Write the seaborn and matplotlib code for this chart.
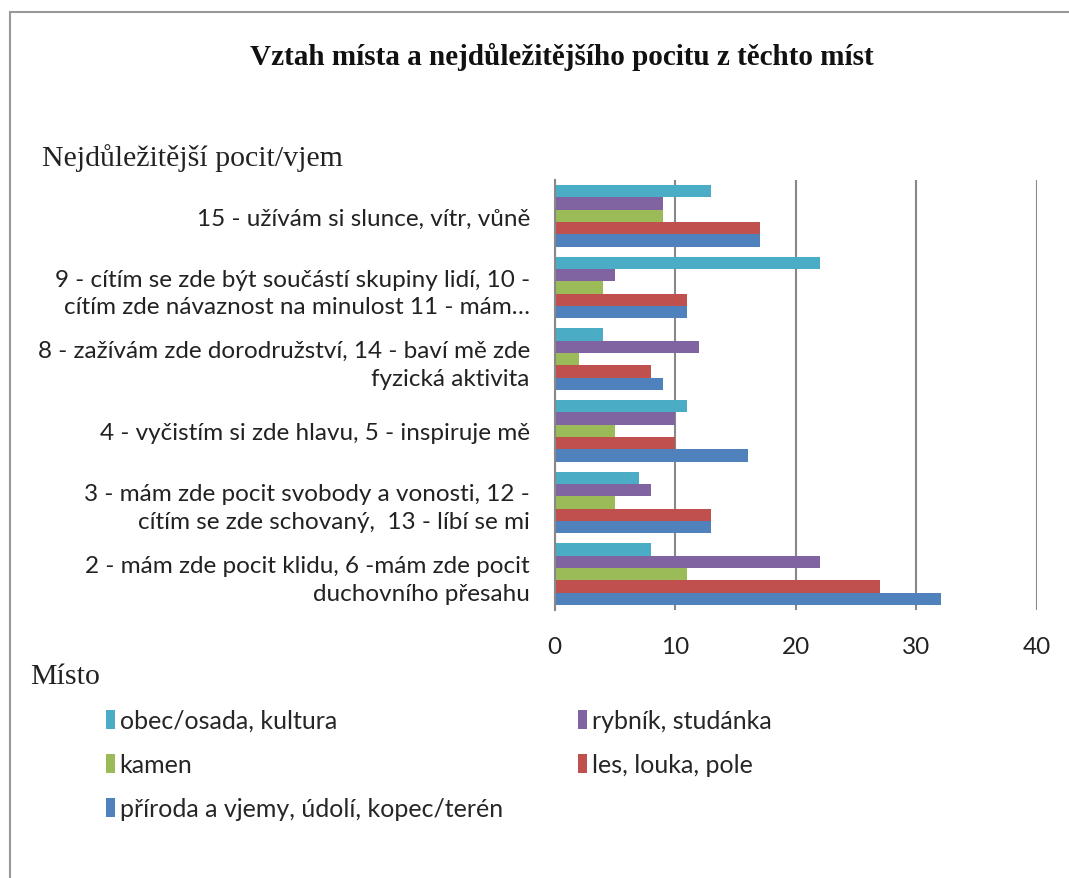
import pandas as pd
import matplotlib
matplotlib.use("Agg")
import matplotlib.pyplot as plt
from matplotlib.patches import Rectangle
import seaborn as sns

# categories (top to bottom)
pocity = [
    "15 - užívám si slunce, vítr, vůně",
    "9 - cítím se zde být součástí skupiny lidí, 10 -\ncítím zde návaznost na minulost 11 - mám…",
    "8 - zažívám zde dorodružství, 14 - baví mě zde\nfyzická aktivita",
    "4 - vyčistím si zde hlavu, 5 - inspiruje mě",
    "3 - mám zde pocit svobody a vonosti, 12 -\ncítím se zde schovaný,  13 - líbí se mi",
    "2 - mám zde pocit klidu, 6 -mám zde pocit\nduchovního přesahu",
]

mista = ["obec/osada, kultura", "rybník, studánka", "kamen",
         "les, louka, pole", "příroda a vjemy, údolí, kopec/terén"]

obec = [13, 22, 4, 11, 7, 8]
rybnik = [9, 5, 12, 10, 8, 22]
kamen = [9, 4, 2, 5, 5, 11]
les = [17, 11, 8, 10, 13, 27]
priroda = [17, 11, 9, 16, 13, 32]

colors = ["#4BACC6", "#8064A2", "#9BBB59", "#C0504D", "#4F81BD"]

rows = []
for misto, vals in zip(mista, [obec, rybnik, kamen, les, priroda]):
    for p, v in zip(pocity, vals):
        rows.append({"pocit": p, "misto": misto, "pocet": v})
df = pd.DataFrame(rows)

sns.set_style("white")
plt.rcParams["font.family"] = ["Lato", "DejaVu Sans"]

fig = plt.figure(figsize=(10.69, 8.79), dpi=100)
ax = fig.add_axes([0.519, 0.305, 0.451, 0.489])

sns.barplot(data=df, y="pocit", x="pocet", hue="misto", order=pocity,
            hue_order=mista, palette=colors, orient="h", width=0.86,
            gap=0, linewidth=0, saturation=1, ax=ax)

ax.set_xlim(0, 40)
ax.set_xticks([0, 10, 20, 30, 40])
ax.grid(axis="x", color="#888888", linewidth=1.5)
ax.set_axisbelow(True)
for s in ["top", "right", "bottom"]:
    ax.spines[s].set_visible(False)
ax.spines["left"].set_color("#888888")
ax.spines["left"].set_linewidth(1.5)
ax.set_xlabel("")
ax.set_ylabel("")
ax.tick_params(axis="x", length=0, pad=19, labelsize=17.5, colors="#222222")
ax.tick_params(axis="y", length=0, pad=18, labelsize=17.5, colors="#222222")
for t in ax.get_yticklabels():
    t.set_linespacing(1.4)
    t.set_horizontalalignment("right")
    t.set_multialignment("right")

# legend, row-major order like the original
handles, labels = ax.get_legend_handles_labels()
idx = [0, 2, 4, 1, 3]
ax.legend([handles[i] for i in idx], [labels[i] for i in idx], ncol=2,
          loc="upper left", bbox_to_anchor=(0.078, 0.218),
          bbox_transform=fig.transFigure, frameon=False, fontsize=18,
          handlelength=0.35, handleheight=0.8, handletextpad=0.2,
          columnspacing=3.0, labelspacing=0.84)

serif = ["Liberation Serif", "DejaVu Serif"]
fig.text(0.526, 0.935, "Vztah místa a nejdůležitějšího pocitu z těchto míst",
         ha="center", va="center", fontsize=21, fontweight="bold",
         family=serif, color="#111111")
fig.text(0.039, 0.82, "Nejdůležitější pocit/vjem", ha="left", va="center",
         fontsize=21.5, family=serif, color="#222222")
fig.text(0.028, 0.23, "Místo", ha="left", va="center", fontsize=21.5,
         family=serif, color="#222222")

# chart frame
fig.patches.append(Rectangle((0.009, -0.05), 1.1, 1.035,
                             transform=fig.transFigure, fill=False,
                             edgecolor="#999999", linewidth=1.5))

fig.savefig("out.png", dpi=100)
